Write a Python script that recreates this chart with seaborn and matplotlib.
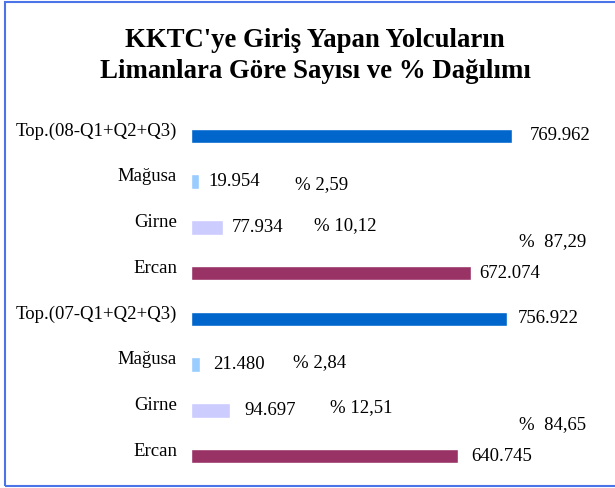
import matplotlib
matplotlib.use("Agg")
import matplotlib.pyplot as plt
import matplotlib.transforms as mtransforms
from matplotlib.patches import Rectangle
import seaborn as sns
import pandas as pd

# ---- data ----
categories = ["Top.(08-Q1+Q2+Q3)", "Mağusa", "Girne", "Ercan",
              "Top.(07-Q1+Q2+Q3)", "Mağusa", "Girne", "Ercan"]
slots = ["top08", "magusa08", "girne08", "ercan08",
         "top07", "magusa07", "girne07", "ercan07"]
values = [769962, 19954, 77934, 672074, 756922, 21480, 94697, 640745]
pct_2008 = [2.59, 10.12, 87.29]
pct_2007 = [2.84, 12.51, 84.65]
title = "KKTC'ye Giriş Yapan Yolcuların\nLimanlara Göre Sayısı ve % Dağılımı"

# ---- style ----
colors = ["#0066CC", "#99CCFF", "#CCCCFF", "#993366",
          "#0066CC", "#99CCFF", "#CCCCFF", "#993366"]
value_gap_px = [18, 9, 8, 8, 11, 13, 14, 13]
pct_pos_px = [(295, 185), (314, 226), (519, 242),
              (293, 363), (330, 408), (519, 425)]
pct_prefix = ["% ", "% ", "%  "]
W, H = 615, 488
FS = 13.5

sns.set_theme(style="white")
plt.rcParams["font.family"] = ["Liberation Serif", "DejaVu Serif"]
plt.rcParams["text.color"] = "black"

df = pd.DataFrame({"slot": slots, "value": values})

fig = plt.figure(figsize=(W / 100, H / 100), dpi=100)
ax = fig.add_axes([191 / W, 1 - 479 / H, (600 - 191) / W, (479 - 113) / H])

sns.barplot(data=df, x="value", y="slot", hue="slot", palette=colors,
            order=slots, hue_order=slots, width=0.32, legend=False,
            saturation=1, ax=ax, orient="h")

ax.set_xlim(0, 981000)
ax.set_ylim(7.5, -0.5)
ax.set_xlabel("")
ax.set_ylabel("")
ax.set_xticks([])
ax.set_yticks(range(len(slots)))
ax.set_yticklabels(categories, fontsize=FS, color="black")
ax.tick_params(axis="y", length=0, pad=10)
off = mtransforms.ScaledTranslation(0, 0.07, fig.dpi_scale_trans)
for lab in ax.get_yticklabels():
    lab.set_transform(lab.get_transform() + off)
for s in ax.spines.values():
    s.set_visible(False)
ax.set_facecolor("none")

for i, v in enumerate(values):
    ax.annotate(f"{v:,}".replace(",", "."), xy=(v, i), xytext=(value_gap_px[i] * 0.72, 0),
                textcoords="offset points", va="center", ha="left", fontsize=FS,
                color="black")

pcts = pct_2008 + pct_2007
prefixes = pct_prefix + pct_prefix
for p, pre, (px, py) in zip(pcts, prefixes, pct_pos_px):
    fig.text(px / W, 1 - py / H, pre + f"{p:.2f}".replace(".", ","),
             ha="left", va="center", fontsize=FS, color="black")

fig.text(315 / W, 1 - 56 / H, title, ha="center", va="center",
         fontsize=19.3, fontweight="bold", linespacing=1.3, color="black")

fig.patches.append(Rectangle((5 / W, 1 - 486 / H), 700 / W, 484 / H,
                             transform=fig.transFigure, fill=False,
                             edgecolor="#4A74E8", linewidth=1.5))

fig.savefig("out.png", dpi=100)
